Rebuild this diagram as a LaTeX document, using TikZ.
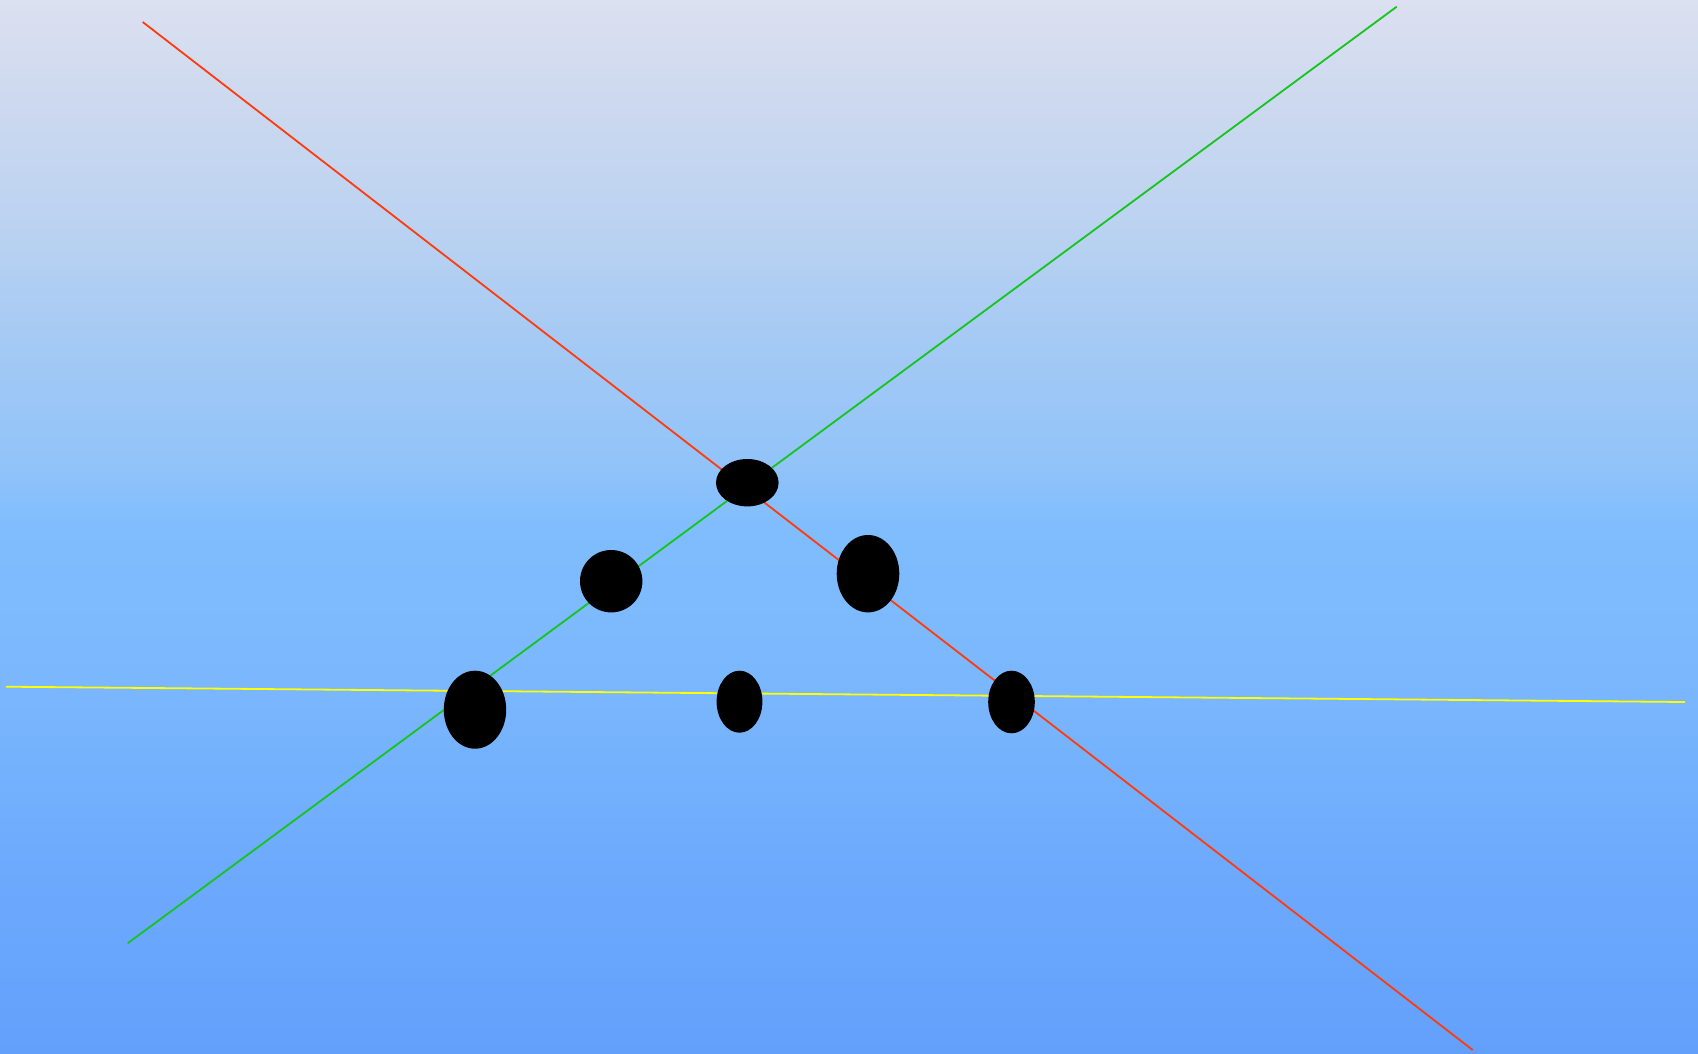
\documentclass[tikz,border=0pt]{standalone}
\usetikzlibrary{shapes.geometric}
\definecolor{bgA}{HTML}{DCE0F0}
\definecolor{bgB}{HTML}{CDD9EF}
\definecolor{bgC}{HTML}{BAD2F1}
\definecolor{bgD}{HTML}{A6CAF4}
\definecolor{bgE}{HTML}{91C3F9}
\definecolor{bgF}{HTML}{80BDFE}
\definecolor{bgG}{HTML}{79B6FD}
\definecolor{bgH}{HTML}{6DAAFD}
\definecolor{bgI}{HTML}{62A0FC}
\definecolor{redline}{HTML}{FF3A0C}
\definecolor{greenline}{HTML}{16C41E}
\definecolor{yellowline}{HTML}{FFFF00}
\pgfdeclareverticalshading{bgshade}{100bp}{%
  color(0bp)=(bgI); color(25bp)=(bgI); color(33.9bp)=(bgH); color(41.8bp)=(bgG);
  color(50.1bp)=(bgF); color(52.9bp)=(bgE); color(59.2bp)=(bgD); color(64bp)=(bgC);
  color(70.3bp)=(bgB); color(75bp)=(bgA); color(100bp)=(bgA)}
\tikzset{
  blob/.style={ellipse, fill=black, draw=none, inner sep=0pt, outer sep=0pt},
  ln/.style={line width=1.8pt, line cap=butt}
}
\begin{document}
\begin{tikzpicture}[x=1pt,y=-1pt]
\useasboundingbox (0,0) rectangle (1698,1054);
\shade[shading=bgshade] (0,0) rectangle (1698,1054);
\coordinate (r1) at (142.7,22);
\coordinate (r2) at (1472.7,1050);
\coordinate (g1) at (1396.7,6.7);
\coordinate (g2) at (127.7,943.3);
\coordinate (y1) at (6,686.7);
\coordinate (y2) at (1685,702);
\draw[ln, redline] (r1) -- (r2);
\draw[ln, greenline] (g1) -- (g2);
\draw[ln, yellowline] (y1) -- (y2);
\node[blob, minimum width=62.6pt, minimum height=47.4pt] (top) at (747.3,482.7) {};
\node[blob, minimum width=62.6pt, minimum height=77.4pt] (ru) at (868,573.7) {};
\node[blob, minimum width=62.4pt, minimum height=62.4pt] (lu) at (611.2,581.2) {};
\node[blob, minimum width=62.4pt, minimum height=78pt] (ll) at (475,709.7) {};
\node[blob, minimum width=45.8pt, minimum height=62pt] (mm) at (739.5,701.7) {};
\node[blob, minimum width=46.6pt, minimum height=62.6pt] (rr) at (1011.5,702) {};
\end{tikzpicture}
\end{document}
